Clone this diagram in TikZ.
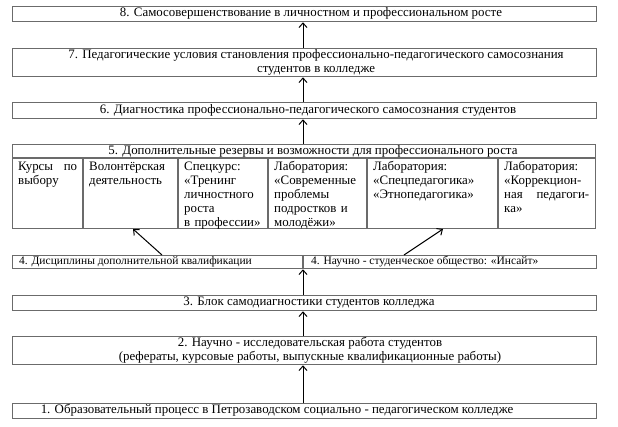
\documentclass[tikz,border=0pt]{standalone}
\usepackage{fontspec}
\setmainfont{Liberation Serif}
\usetikzlibrary{arrows.meta}
\begin{document}
\begin{tikzpicture}[x=1pt,y=-1pt,
  frame/.style={draw=black!58,line width=1.3pt},
  boxn/.style={frame,anchor=north west,minimum width=584pt,inner sep=0pt},
  txt/.style={inner sep=0pt,align=center,font=\fontsize{12.9}{14}\selectfont},
  small/.style={font=\fontsize{11.5}{13}\selectfont},
  cell/.style={anchor=north west,inner xsep=6pt,inner ysep=0pt,align=left,font=\fontsize{12.9}{14}\selectfont},
  arr/.style={-{Straight Barb[length=4.5pt,width=8pt]},line width=1pt,black}]
\useasboundingbox (0,0) rectangle (618,427);
% boxes
\node[boxn,minimum height=15pt] (b8) at (12,6) {};
\node[txt] (t8) at (311,13.5) {8. Самосовершенствование в личностном и профессиональном росте};
\node[boxn,minimum height=28pt] (b7) at (12,48) {};
\node[txt] (t7) at (316,62) {7. Педагогические условия становления профессионально-педагогического самосознания\\студентов в колледже};
\node[boxn,minimum height=16pt] (b6) at (12,102) {};
\node[txt] (t6) at (308,110) {6. Диагностика профессионально-педагогического самосознания студентов};
\node[frame,anchor=north west,minimum width=583pt,minimum height=84pt,inner sep=0pt] (b5) at (12,144) {};
\node[txt] (h5) at (313,151) {5. Дополнительные резервы и возможности для профессионального роста};
\draw[frame] (12,158) -- (595,158);
\foreach \xx in {83,178,268,367,498} \draw[frame] (\xx,158) -- (\xx,228);
\node[cell,text width=59pt] (c1) at (12,160.5) {\leavevmode\hbox to \hsize{\strut Курсы\hfill по}\\выбору};
\node[cell,text width=83pt] (c2) at (83,160.5) {\strut Волонтёрская\\деятельность};
\node[cell,text width=78pt] (c3) at (178,160.5) {\strut Спецкурс:\\«Тренинг\\личностного\\роста\\в профессии»};
\node[cell,text width=87pt] (c4) at (268,160.5) {\strut Лаборатория:\\«Современные\\проблемы\\подростков и\\молодёжи»};
\node[cell,text width=119pt] (c5) at (367,160.5) {\strut Лаборатория:\\«Спецпедагогика»\\«Этнопедагогика»};
\node[cell,text width=85pt] (c6) at (498,160.5) {\strut Лаборатория:\\«Коррекцион-\\\leavevmode\hbox to \hsize{ная\hfill педагоги-}\\ка»};
\node[boxn,minimum height=13pt] (b4) at (12,255) {};
\draw[frame] (303,255) -- (303,268);
\node[txt,small,anchor=west] (t4a) at (19,261.5) {4. Дисциплины дополнительной квалификации};
\node[txt,small,anchor=west] (t4b) at (311,261.5) {4. Научно - студенческое общество: «Инсайт»};
\node[boxn,minimum height=15pt] (b3) at (12,295) {};
\node[txt] (t3) at (309,302.5) {3. Блок самодиагностики студентов колледжа};
\node[boxn,minimum height=28pt] (b2) at (12,336) {};
\node[txt] (t2) at (310,350) {2. Научно - исследовательская работа студентов\\(рефераты, курсовые работы, выпускные квалификационные работы)};
\node[boxn,minimum height=15pt] (b1) at (12,403) {};
\node[txt] (t1) at (277,410.5) {1. Образовательный процесс в Петрозаводском социально - педагогическом колледже};
% arrows
\coordinate (l4) at (162,255);
\coordinate (l5) at (133,229);
\coordinate (r4) at (404,255);
\coordinate (r5) at (443,229);
\draw[arr] (b1.north -| 303,0) -- (b2.south -| 303,0);
\draw[arr] (b2.north -| 303,0) -- (b3.south -| 303,0);
\draw[arr] (b3.north -| 303,0) -- (b4.south -| 303,0);
\draw[arr] (l4) -- (l5);
\draw[arr] (r4) -- (r5);
\draw[arr] (b5.north -| 303,0) -- (b6.south -| 303,0);
\draw[arr] (b6.north -| 303,0) -- (b7.south -| 303,0);
\draw[arr] (b7.north -| 303,0) -- (b8.south -| 303,0);
\end{tikzpicture}
\end{document}
